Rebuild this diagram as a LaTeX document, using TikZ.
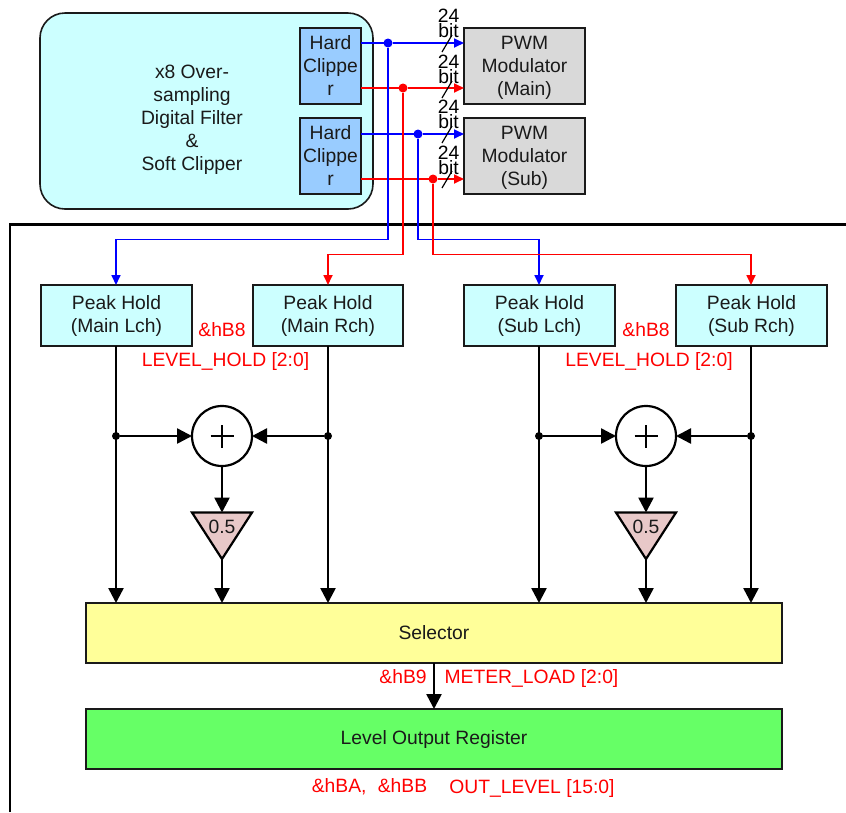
\documentclass[tikz,border=0pt]{standalone}
\usepackage{fontspec}
\setmainfont{Liberation Sans}
\usetikzlibrary{arrows.meta}
\definecolor{inkc}{HTML}{1A1A1A}
\definecolor{cyanfill}{HTML}{CCFFFF}
\definecolor{bluefill}{HTML}{99CCFF}
\definecolor{greyfill}{HTML}{D9D9D9}
\definecolor{yellowfill}{HTML}{FFFF99}
\definecolor{greenfill}{HTML}{66FF66}
\definecolor{pinkfill}{HTML}{E8C8C8}
\definecolor{sigblue}{HTML}{0000FF}
\definecolor{sigred}{HTML}{FF0000}
\newcommand{\lbl}{\fontsize{19.3}{23}\selectfont}
\newcommand{\pwmstrut}{\rule{0pt}{17.5pt}}
\newcommand{\peakstrut}{\rule{0pt}{15.5pt}}
\tikzset{
  every node/.style={font=\lbl,text=inkc,inner sep=0pt,outer sep=0pt,align=center},
  boxn/.style={draw=inkc,line width=1.6pt,rectangle},
  clipbox/.style={boxn,fill=bluefill,minimum width=61pt,minimum height=76pt},
  pwmbox/.style={boxn,fill=greyfill,minimum width=121pt,minimum height=76pt},
  peakbox/.style={boxn,fill=cyanfill,minimum width=150.5pt,minimum height=61pt},
  widebox/.style={boxn,minimum width=696pt,minimum height=60pt},
  adder/.style={circle,draw=black,line width=2.2pt,fill=white,minimum size=60pt},
  blackline/.style={draw=black,line width=2.5pt},
  blackarr/.style={blackline,-{Triangle[length=15pt,width=15pt]}},
  bluearr/.style={draw=sigblue,line width=1.7pt,-{Triangle[length=10pt,width=9pt]}},
  redarr/.style={draw=sigred,line width=1.7pt,-{Triangle[length=10pt,width=9pt]}},
  blueline/.style={draw=sigblue,line width=1.7pt},
  redline/.style={draw=sigred,line width=1.7pt},
  bluedot/.style={circle,fill=sigblue,minimum size=9pt},
  reddot/.style={circle,fill=sigred,minimum size=9pt},
  blackdot/.style={circle,fill=black,minimum size=8pt},
  bitlabel/.style={font=\fontsize{19.3}{15}\selectfont,text=black},
  slashline/.style={draw=black,line width=1.2pt},
  redlabel/.style={text=sigred},
  gaintri/.style={draw=black,line width=2.2pt,fill=pinkfill,line join=miter}
}
\begin{document}
\begin{tikzpicture}[x=1pt,y=-1pt]
\useasboundingbox (0,0) rectangle (846,812);
% frame
\draw[black,line width=2.4pt] (10,812) -- (10,224.5) -- (846,224.5);
% top block
\node[boxn,fill=cyanfill,rounded corners=25pt,minimum width=333pt,minimum height=196pt] (dsp) at (206.5,111) {};
\node (dsptext) at (192,119.5) {x8 Over-\\sampling\\Digital Filter\\\&\\Soft Clipper};
\node[clipbox] (hc1) at (330.5,66) {Hard\\Clippe\\r};
\node[clipbox] (hc2) at (330.5,156) {Hard\\Clippe\\r};
\node[pwmbox] (pwm1) at (524.5,66) {\pwmstrut PWM\\Modulator\\(Main)};
\node[pwmbox] (pwm2) at (524.5,156) {\pwmstrut PWM\\Modulator\\(Sub)};
% peak holds
\node[peakbox] (ph1) at (116.5,315.5) {\peakstrut Peak Hold\\(Main Lch)};
\node[peakbox] (ph2) at (328,315.5) {\peakstrut Peak Hold\\(Main Rch)};
\node[peakbox] (ph3) at (539.5,315.5) {\peakstrut Peak Hold\\(Sub Lch)};
\node[peakbox] (ph4) at (751.5,315.5) {\peakstrut Peak Hold\\(Sub Rch)};
% junctions
\node[bluedot] (d1) at (388,43) {};
\node[reddot] (d2) at (403,88) {};
\node[bluedot] (d3) at (418,134) {};
\node[reddot] (d4) at (433,179) {};
\coordinate (b1) at (116,239.5);
\coordinate (b2) at (328,254.5);
\coordinate (b3) at (539,239.5);
\coordinate (b4) at (751,254.5);
% top signals
\draw[blueline] (hc1.east |- d1) -- (d1);
\draw[bluearr] (d1) -- (pwm1.west |- d1);
\draw[redline] (hc1.east |- d2) -- (d2);
\draw[redarr] (d2) -- (pwm1.west |- d2);
\draw[blueline] (hc2.east |- d3) -- (d3);
\draw[bluearr] (d3) -- (pwm2.west |- d3);
\draw[redline] (hc2.east |- d4) -- (d4);
\draw[redarr] (d4) -- (pwm2.west |- d4);
% branches
\draw[bluearr] (d1) |- (b1) -- (ph1.north -| b1);
\draw[redarr] (d2) |- (b2) -- (ph2.north -| b2);
\draw[bluearr] (d3) |- (b3) -- (ph3.north -| b3);
\draw[redarr] (d4) |- (b4) -- (ph4.north -| b4);
% bus marks
\coordinate (s1a) at (442,52); \coordinate (s1b) at (452,35);
\coordinate (s2a) at (442,98); \coordinate (s2b) at (452,81);
\coordinate (s3a) at (442,143); \coordinate (s3b) at (452,126);
\coordinate (s4a) at (442,188); \coordinate (s4b) at (452,171);
\draw[slashline] (s1a) -- (s1b);
\draw[slashline] (s2a) -- (s2b);
\draw[slashline] (s3a) -- (s3b);
\draw[slashline] (s4a) -- (s4b);
\node[bitlabel] (w1) at (448.5,23) {24\\bit};
\node[bitlabel] (w2) at (448.5,69.5) {24\\bit};
\node[bitlabel] (w3) at (448.5,114.5) {24\\bit};
\node[bitlabel] (w4) at (448.5,160) {24\\bit};
% lower blocks
\node[widebox,fill=yellowfill] (sel) at (434,633) {Selector};
\node[widebox,fill=greenfill] (reg) at (434,739) {Level Output Register};
% adders
\node[adder] (a1) at (222,436) {};
\node[adder] (a2) at (646,436) {};
\draw[black,line width=1.5pt] ([xshift=-11.5pt]a1.center) -- ([xshift=11.5pt]a1.center) ([yshift=-11.5pt]a1.center) -- ([yshift=11.5pt]a1.center);
\draw[black,line width=1.5pt] ([xshift=-11.5pt]a2.center) -- ([xshift=11.5pt]a2.center) ([yshift=-11.5pt]a2.center) -- ([yshift=11.5pt]a2.center);
% gain triangles
\coordinate (t1top) at (222,512.5); \coordinate (t1bot) at (222,559);
\coordinate (t2top) at (646,512.5); \coordinate (t2bot) at (646,559);
\draw[gaintri] (192,512.5) -- (252,512.5) -- (t1bot) -- cycle;
\draw[gaintri] (616,512.5) -- (676,512.5) -- (t2bot) -- cycle;
\node (g1) at (222,527) {0.5};
\node (g2) at (646,527) {0.5};
% black junctions
\node[blackdot] (j1) at (116,436) {};
\node[blackdot] (j2) at (328,436) {};
\node[blackdot] (j3) at (539,436) {};
\node[blackdot] (j4) at (751,436) {};
% black signals
\draw[blackarr] (ph1.south -| j1) -- (sel.north -| j1);
\draw[blackarr] (ph2.south -| j2) -- (sel.north -| j2);
\draw[blackarr] (ph3.south -| j3) -- (sel.north -| j3);
\draw[blackarr] (ph4.south -| j4) -- (sel.north -| j4);
\draw[blackarr] (j1) -- (a1);
\draw[blackarr] (j2) -- (a1);
\draw[blackarr] (j3) -- (a2);
\draw[blackarr] (j4) -- (a2);
\draw[blackarr] (a1) -- (t1top);
\draw[blackarr] (a2) -- (t2top);
\draw[blackarr] (t1bot) -- (sel.north -| t1bot);
\draw[blackarr] (t2bot) -- (sel.north -| t2bot);
\draw[blackarr] (sel.south -| 434,0) -- (reg.north -| 434,0);
% red labels
\node[redlabel] (r1) at (222,330) {\&hB8};
\node[redlabel] (r2) at (225.5,362) {LEVEL\_HOLD [2:0]};
\node[redlabel] (r3) at (646,330) {\&hB8};
\node[redlabel] (r4) at (649,362) {LEVEL\_HOLD [2:0]};
\node[redlabel] (r5) at (403,677) {\&hB9};
\node[redlabel] (r6) at (531.5,678) {METER\_LOAD [2:0]};
\node[redlabel] (r7) at (369.5,787) {\&hBA,\hspace{6pt} \&hBB};
\node[redlabel] (r8) at (532,788) {OUT\_LEVEL [15:0]};
\end{tikzpicture}
\end{document}
